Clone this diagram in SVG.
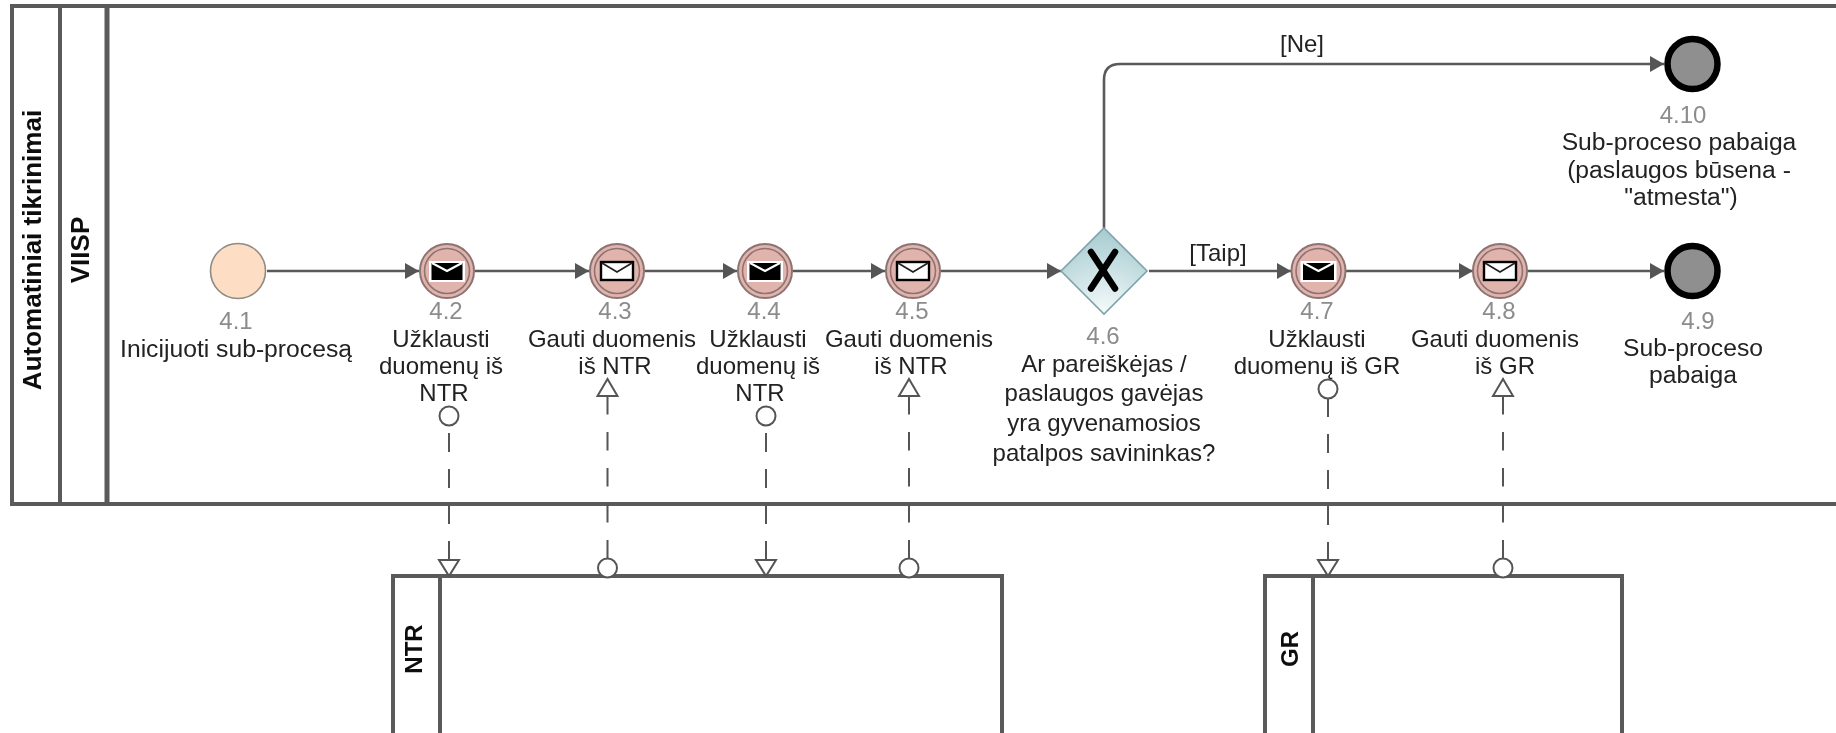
<svg xmlns="http://www.w3.org/2000/svg" xmlns:xlink="http://www.w3.org/1999/xlink" width="1836" height="733" viewBox="0 0 1836 733">
<style>
text{font-family:"Liberation Sans",Arial,sans-serif;font-size:24px;fill:#222;text-anchor:middle}
.n{fill:#8c8c8c}
.b{font-weight:bold;fill:#111}
.t{font-size:26px}
.w{font-size:24.700px}
.sw{fill:none;stroke:#5a5a5a;stroke-width:4}
.fl{fill:none;stroke:#5a5a5a;stroke-width:2.6}
.ms{fill:none;stroke:#555;stroke-width:2;stroke-dasharray:19 17}
.mr{fill:none;stroke:#555;stroke-width:2;stroke-dasharray:18.500 17.500}
.mh{fill:#fff;stroke:#555;stroke-width:2}
.ring{fill:#e1b3ad;stroke:#8d7371;stroke-width:2}
.end{fill:#8f8f8f;stroke:#000;stroke-width:6.500}
</style>
<defs>
<filter id="soft" x="0" y="0" width="100%" height="100%" filterUnits="objectBoundingBox"><feGaussianBlur stdDeviation="0.5"/></filter>
<marker id="arr" markerUnits="userSpaceOnUse" markerWidth="16" markerHeight="18" refX="15" refY="9" orient="auto"><path d="M1 1L15 9L1 17Z" fill="#555"/></marker>
<radialGradient id="gw" cx="50%" cy="100%" r="95%"><stop offset="0" stop-color="#f6fbfb"/><stop offset="1" stop-color="#a9cdd2"/></radialGradient>
<g id="task"><circle r="27" class="ring"/><circle r="22.5" fill="none" stroke="#8d7371" stroke-width="1.6"/></g>
<g id="send"><use xlink:href="#task"/><rect x="-18" y="-10" width="36" height="21" fill="#fff"/><rect x="-15.5" y="-8" width="31" height="17" fill="#000"/><path d="M-15 -8L0 0L15 -8" fill="none" stroke="#fff" stroke-width="2"/></g>
<g id="recv"><use xlink:href="#task"/><rect x="-16" y="-9" width="32" height="18" fill="#fff" stroke="#000" stroke-width="2.4"/><path d="M-15 -8L0 1L15 -8" fill="none" stroke="#222" stroke-width="1.8"/></g>
</defs>
<g filter="url(#soft)">
<rect width="1836" height="733" fill="#fff"/>
<g id="pool"><rect x="12" y="6" width="1830" height="498" class="sw"/><line x1="60" y1="6" x2="60" y2="504" class="sw"/><line x1="107" y1="6" x2="107" y2="504" class="sw" style="stroke-width:5"/>
<text class="b t" transform="translate(41 250) rotate(-90)">Automatiniai tikrinimai</text>
<text class="b t" transform="translate(89 250) rotate(-90)">VIISP</text></g>
<g id="ntr"><rect x="393" y="576" width="609" height="170" class="sw"/><line x1="440" y1="576" x2="440" y2="733" class="sw"/><text class="b" transform="translate(422 649) rotate(-90)">NTR</text></g>
<g id="gr"><rect x="1265" y="576" width="357" height="170" class="sw"/><line x1="1313" y1="576" x2="1313" y2="733" class="sw"/><text class="b" transform="translate(1298 649) rotate(-90)">GR</text></g>
<g id="connectors">
<path class="fl" marker-end="url(#arr)" d="M267 271H419"/>
<path class="fl" marker-end="url(#arr)" d="M475 271H589"/>
<path class="fl" marker-end="url(#arr)" d="M645 271H737"/>
<path class="fl" marker-end="url(#arr)" d="M793 271H885"/>
<path class="fl" marker-end="url(#arr)" d="M941 271H1061"/>
<path class="fl" marker-end="url(#arr)" d="M1149 271H1291"/>
<path class="fl" marker-end="url(#arr)" d="M1346 271H1473"/>
<path class="fl" marker-end="url(#arr)" d="M1528 271H1664"/>
<path class="fl" marker-end="url(#arr)" d="M1104 228V80Q1104 64 1120 64H1664"/>
<path class="ms" d="M449 433V562"/><circle class="mh" cx="449" cy="416" r="9.5"/><path class="mh" d="M439 560H459L449 576Z"/>
<path class="mr" d="M607.500 396V558"/><circle class="mh" cx="607.500" cy="568" r="9.500"/><path class="mh" d="M597.500 396H617.500L607.500 379Z"/>
<path class="ms" d="M766 433V562"/><circle class="mh" cx="766" cy="416" r="9.5"/><path class="mh" d="M756 560H776L766 576Z"/>
<path class="mr" d="M909 396V558"/><circle class="mh" cx="909" cy="568" r="9.5"/><path class="mh" d="M899 396H919L909 379Z"/>
<path class="ms" d="M1328 398V562"/><circle class="mh" cx="1328" cy="389" r="9.5"/><path class="mh" d="M1318 560H1338L1328 576Z"/>
<path class="mr" d="M1503 396V558"/><circle class="mh" cx="1503" cy="568" r="9.5"/><path class="mh" d="M1493 396H1513L1503 379Z"/>
</g>
<g id="n41"><circle cx="238" cy="271" r="27.500" fill="#fddec4" stroke="#8f8a84" stroke-width="1.600"/><text class="n" x="236" y="329">4.1</text><text class="w" x="236" y="357">Inicijuoti sub-procesą</text></g>
<g id="n42"><use xlink:href="#send" x="447" y="271"/><text class="n" x="446" y="319">4.2</text><text x="441" y="347">Užklausti</text><text x="441" y="374">duomenų iš</text><text x="444" y="401">NTR</text></g>
<g id="n43"><use xlink:href="#recv" x="617" y="271"/><text class="n" x="615" y="319">4.3</text><text x="612" y="347">Gauti duomenis</text><text x="615" y="374">iš NTR</text></g>
<g id="n44"><use xlink:href="#send" x="765" y="271"/><text class="n" x="764" y="319">4.4</text><text x="758" y="347">Užklausti</text><text x="758" y="374">duomenų iš</text><text x="760" y="401">NTR</text></g>
<g id="n45"><use xlink:href="#recv" x="913" y="271"/><text class="n" x="912" y="319">4.5</text><text x="909" y="347">Gauti duomenis</text><text x="911" y="374">iš NTR</text></g>
<g id="n46"><path d="M1104 228L1147 271L1104 314L1061 271Z" fill="url(#gw)" stroke="#7fa3aa" stroke-width="1.6"/><path d="M1091 252L1115 288.500M1115 252L1091 288.500" stroke="#000" stroke-width="6.500" stroke-linecap="round" fill="none"/><text class="n" x="1103" y="344">4.6</text><text x="1104" y="372">Ar pareiškėjas /</text><text x="1104" y="401">paslaugos gavėjas</text><text x="1104" y="431">yra gyvenamosios</text><text x="1104" y="461">patalpos savininkas?</text></g>
<g id="n47"><use xlink:href="#send" x="1318.500" y="271"/><text class="n" x="1317" y="319">4.7</text><text x="1317" y="347">Užklausti</text><text x="1317" y="374">duomenų iš GR</text></g>
<g id="n48"><use xlink:href="#recv" x="1500" y="271"/><text class="n" x="1499" y="319">4.8</text><text x="1495" y="347">Gauti duomenis</text><text x="1505" y="374">iš GR</text></g>
<g id="n49"><circle class="end" cx="1692.500" cy="271" r="25"/><text class="n" x="1698" y="329">4.9</text><text class="w" x="1693" y="356">Sub-proceso</text><text class="w" x="1693" y="383">pabaiga</text></g>
<g id="n410"><circle class="end" cx="1692.500" cy="64" r="25"/><text class="n" x="1683" y="123">4.10</text><text class="w" x="1679" y="150">Sub-proceso pabaiga</text><text class="w" x="1679" y="178">(paslaugos būsena -</text><text class="w" x="1681" y="205">"atmesta")</text></g>
<g id="labels"><text x="1302" y="52">[Ne]</text><text x="1218" y="261">[Taip]</text></g>
</g>
</svg>
